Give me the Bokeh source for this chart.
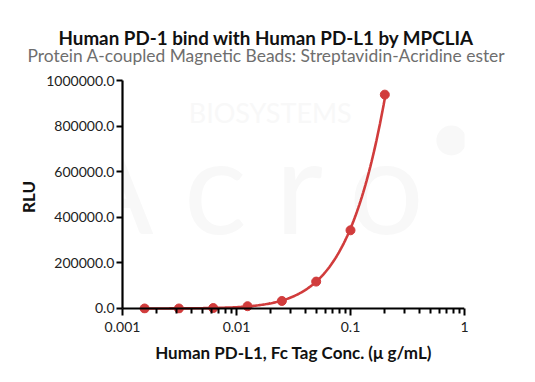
import numpy as np
from bokeh.plotting import figure
from bokeh.models import (Title, FixedTicker, PrintfTickFormatter, Range1d, Label, Span)
from bokeh.embed import file_html
from bokeh.resources import INLINE

# ---- data ----
conc = [0.0015625, 0.003125, 0.00625, 0.0125, 0.025, 0.05, 0.1, 0.2]
rlu = [0, 0, 2000, 10000, 33000, 118000, 343000, 938000]
x_ticks = [0.001, 0.01, 0.1, 1]
x_tick_labels = ["0.001", "0.01", "0.1", "1"]
y_ticks = [0, 200000, 400000, 600000, 800000, 1000000]

title_text = "Human PD-1 bind with Human PD-L1 by MPCLIA"
subtitle_text = "Protein A-coupled Magnetic Beads: Streptavidin-Acridine ester"
x_label = "Human PD-L1, Fc Tag Conc. (\u03bc g/mL)"
y_label = "RLU"

RED = "#d13c3c"
FONT = "Lato"
WM = "#f8f8f8"

# fitted curve (log-log quadratic fit of the positive points)
cx = np.array(conc)
cy = np.array(rlu, dtype=float)
mask = cy > 0
coef = np.polyfit(np.log10(cx[mask]), np.log10(cy[mask]), 2)
xs = np.logspace(np.log10(conc[0]), np.log10(conc[-1]), 200)
ys = 10 ** np.polyval(coef, np.log10(xs))

p = figure(width=519, height=366, x_axis_type="log",
           x_range=Range1d(0.001, 1), y_range=Range1d(-22000, 1000000),
           output_backend="svg", toolbar_location=None,
           min_border_left=122, min_border_right=55,
           min_border_bottom=53, min_border_top=80)
p.outline_line_color = None
p.grid.visible = False
p.background_fill_color = "white"

sub = Title(text=subtitle_text, align="left", offset=-95, text_font=FONT,
            text_font_size="17.4px", text_font_style="normal",
            text_color="#6e6e6e", standoff=29)
p.add_layout(sub, "above")
main = Title(text=title_text, align="left", offset=-64, text_font=FONT,
             text_font_size="18.8px", text_font_style="bold",
             text_color="#111111", standoff=-40)
p.add_layout(main, "above")

# faint watermark (decoration)
def lx(px):
    return 10 ** (-3 + (px - 124) / 113.7)

def ly(py):
    return (308 - py) / 228 * 1e6

p.add_layout(Label(x=lx(190), y=ly(112), text="BIOSYSTEMS", text_font=FONT,
                   text_font_size="27px", text_color=WM, level="underlay",
                   text_baseline="middle"))
for ch, px in (("A", 66), ("c", 185), ("r", 276), ("o", 350)):
    p.add_layout(Label(x=lx(px), y=ly(183), text=ch, text_font=FONT,
                       text_font_size="132px", text_color=WM, level="underlay",
                       text_baseline="middle"))
p.scatter([lx(452)], [ly(140)], size=30, fill_color=WM, line_color=None,
          level="underlay")

# x axis line at y = 0
p.add_layout(Span(location=0, dimension="width", line_color="black",
                  line_width=2.2))

p.line(xs, ys, line_color=RED, line_width=2.6)
p.scatter(conc, rlu, size=9, fill_color=RED, line_color=RED)

# axes
xa = p.xaxis[0]
xa.ticker = FixedTicker(ticks=x_ticks,
                        minor_ticks=[m * 10.0 ** e for e in (-3, -2, -1) for m in range(2, 10)])
xa.major_label_overrides = {t: l for t, l in zip(x_ticks, x_tick_labels)}
ya = p.yaxis[0]
ya.ticker = FixedTicker(ticks=y_ticks)
ya.formatter = PrintfTickFormatter(format="%.1f")
ya.minor_tick_line_color = None
ya.bounds = (0, 1000000)

for ax in (xa, ya):
    ax.axis_line_width = 2.2
    ax.axis_line_color = "black"
    ax.major_tick_line_width = 2
    ax.major_tick_line_color = "black"
    ax.minor_tick_line_width = 2
    ax.minor_tick_line_color = "black"
    ax.major_label_text_font = FONT
    ax.major_label_text_font_size = "14px"
    ax.major_label_text_color = "#222222"
    ax.axis_label_text_font = FONT
    ax.axis_label_text_font_size = "17px"
    ax.axis_label_text_font_style = "bold"
    ax.axis_label_text_color = "#111111"

ya.major_tick_in = 0
ya.major_tick_out = 6
# x axis sits 5px below y=0: ticks reach up to the zero line
xa.axis_line_color = None
xa.major_tick_in = 5
xa.major_tick_out = 2
xa.minor_tick_in = 5
xa.minor_tick_out = 0

xa.axis_label = x_label
ya.axis_label = y_label
xa.major_label_standoff = 6
xa.axis_label_standoff = 7
ya.major_label_standoff = 2
ya.axis_label_standoff = 4

open("out.html", "w").write(file_html(p, INLINE))
